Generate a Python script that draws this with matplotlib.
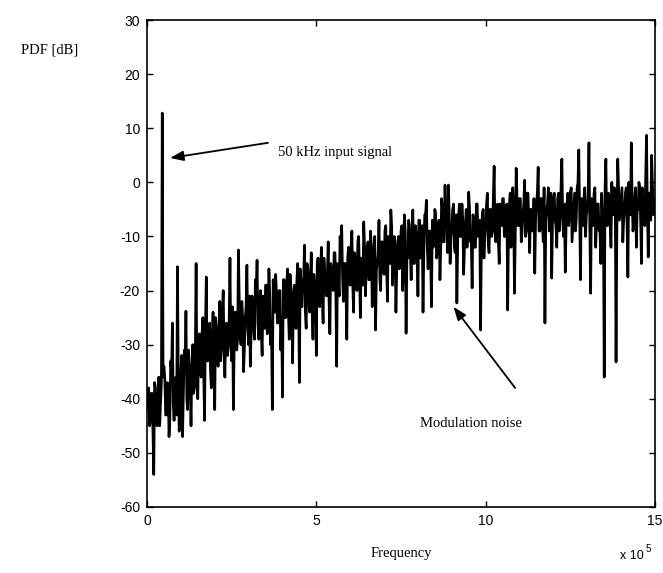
import matplotlib
matplotlib.use("Agg")
import matplotlib.pyplot as plt
import numpy as np

plt.rcParams['axes.unicode_minus'] = False

# PDF values (dB).
# pdf_db: samples at 0, 5, 10, ... 1500 kHz
# pdf_db_mid: samples at 2.5, 7.5, ... 1497.5 kHz
freq_step_khz = 5
pdf_db = [
    -42, -38, -44, -39, -54, -38, -45, -36, -41, 12.8,
    -34, -43, -37, -47, -33, -26, -44, -36, -15.6, -46,
    -35, -47, -31, -23.8, -42, -34, -45, -30, -38, -15,
    -40, -28, -36, -25, -44, -17.5, -33, -26, -38, -24,
    -42, -27, -34, -22, -31, -20, -36, -26, -30, -14,
    -33, -42, -24, -31, -12.5, -28, -22, -35, -25, -15.3,
    -30, -34, -21, -27, -18, -14.4, -29, -20, -32, -23,
    -19, -28, -16, -30, -42, -22, -17, -26, -20, -31,
    -39.7, -18, -25, -16, -29, -21, -33.4, -19, -27, -15,
    -37, -22, -18, -11.6, -27, -16, -24, -13, -29, -19,
    -32, -14, -23, -12, -26, -17, -21, -11, -28, -16,
    -20, -13, -34, -18, -10, -8, -22, -15, -29, -12,
    -19, -9, -24, -14, -20, -10, -25, -16, -7.3, -21,
    -13, -18, -9, -23, -12, -27.3, -15, -7, -20, -11,
    -17, -8, -22, -13, -5.1, -19, -10, -24, -12, -16,
    -9, -20, -6, -27.9, -14, -8, -18, -5.1, -15, -10,
    -21, -7, -13, -24, -6, -3.3, -16, -9, -23, -12,
    -5, -14, -8, -18, -3, -11, -0.5, -6, -0.5, -15,
    -9, -4, -13, -22.3, -6, -10, -4, -17, -8, -12,
    -1.8, -11, -19.5, -7, -12, -4, -10, -27.3, -6, -14,
    -8, -2, -13, -5, -9, 3.0, -11, -4, -15, -7,
    -3, -10, -6, -23.6, -4, -12, -1, -20.5, 2.6, -8,
    -3, -11, -6, 0.4, -9, -2, -13, -5, -8, -16.8,
    -4, 2.8, -9, -3, -11, -26, -5, -1, -8, -17.7,
    -3, -7, -12, -2, -6, 4.3, -10, -16.6, -4, -8,
    -2, -11, -5, -9, -1, 6.0, -18, -6, -3, -10,
    -5, 7.3, -20.5, -7, -2, -12, -4, -9, -15, -6,
    -36, 4.3, -8, -3, -12, -6, -1, -33.2, 4.3, -7,
    -3, -11, -5, -1, -17.5, -6, 7.3, -9, -3, -12,
    -5, -1, -15, -4, -8, 8.7, -13.8, -2, 5, -6,
    -3,
]
pdf_db_mid = [
    -38, -45, -39, -46, -37, -44, -40, -45, -37, -36,
    -36, -43, -38, -44, -35, -41, -38, -43, -36, -42,
    -32, -39, -34, -40, -31, -37, -34, -39, -32, -37,
    -29, -35, -28, -36, -27, -33, -30, -35, -29, -33,
    -25, -32, -27, -33, -24, -30, -27, -32, -26, -30,
    -23, -30, -24, -29, -22, -30, -25, -31, -23, -27,
    -21, -28, -23, -29, -20, -26, -23, -28, -21, -27,
    -19, -26, -21, -27, -18, -24, -21, -26, -20, -25,
    -18, -25, -19, -24, -17, -23, -20, -26, -18, -22,
    -16, -23, -18, -24, -15, -21, -18, -23, -17, -21,
    -15, -22, -16, -21, -14, -20, -17, -22, -15, -19,
    -13, -20, -15, -21, -12, -18, -15, -20, -14, -18,
    -12, -19, -13, -18, -11, -17, -14, -19, -12, -16,
    -11, -18, -12, -17, -10, -16, -13, -18, -11, -15,
    -9, -16, -10, -15, -8, -14, -11, -16, -10, -14,
    -8, -15, -9, -14, -7, -13, -10, -15, -8, -12,
    -7, -14, -8, -13, -6, -12, -9, -14, -7, -11,
    -6, -13, -7, -12, -5, -11, -8, -13, -6, -10,
    -5, -12, -6, -11, -4, -10, -7, -12, -5, -9,
    -5, -11, -6, -12, -4, -10, -7, -11, -5, -10,
    -4, -11, -5, -10, -3, -9, -6, -11, -4, -8,
    -3, -10, -4, -9, -2, -8, -5, -10, -3, -8,
    -3, -9, -4, -10, -2, -8, -5, -9, -3, -7,
    -2, -9, -3, -8, -1, -7, -4, -9, -2, -7,
    -2, -8, -3, -9, -1, -7, -4, -8, -2, -6,
    -1, -8, -2, -7, 0, -6, -3, -8, -1, -6,
    -2, -9, -3, -8, -1, -7, -4, -9, -2, -6,
    -1, -8, -2, -7, 0, -6, -3, -8, -1, -5,
    -1, -7, -2, -8, 0, -6, -3, -7, -1, -5,
    0, -7, -1, -6, 1, -5, -2, -7, 0, -4,
]

freq_main = np.arange(len(pdf_db)) * freq_step_khz * 1e3
freq_mid = (np.arange(len(pdf_db_mid)) + 0.5) * freq_step_khz * 1e3
freq_hz = np.empty(len(freq_main) + len(freq_mid))
vals = np.empty_like(freq_hz)
freq_hz[0::2] = freq_main
freq_hz[1::2] = freq_mid
vals[0::2] = pdf_db
vals[1::2] = pdf_db_mid

x_ticks = [0, 5e5, 10e5, 15e5]
x_tick_labels = ['0', '5', '10', '15']
y_ticks = [-60, -50, -40, -30, -20, -10, 0, 10, 20, 30]

fig = plt.figure(figsize=(6.63, 5.73), dpi=100)
ax = fig.add_axes([147/663, 1-507/573, (655-147)/663, (507-20)/573])
ax.plot(freq_hz, vals, color='black', linewidth=1.9)

ax.set_xlim(0, 15e5)
ax.set_ylim(-60, 30)
ax.set_xticks(x_ticks)
ax.set_xticklabels(x_tick_labels)
ax.set_yticks(y_ticks)
ax.tick_params(direction='in', top=True, right=True, length=4, width=1,
               labelsize=10, pad=5)
for lab in ax.get_xticklabels() + ax.get_yticklabels():
    lab.set_fontfamily('Liberation Sans')
for s in ax.spines.values():
    s.set_linewidth(1.2)

serif = 'Liberation Serif'
ax.set_xlabel('Frequency', fontfamily=serif, fontsize=10.5, labelpad=14)
fig.text(50/663, 1-50/573, 'PDF [dB]', fontfamily=serif, fontsize=10.5,
         ha='center', va='center')
fig.text(644/663, 1-556/573, 'x 10', fontfamily='Liberation Sans', fontsize=9,
         ha='right', va='center')
fig.text(646/663, 1-549/573, '5', fontfamily='Liberation Sans', fontsize=7,
         ha='left', va='center')

ax.annotate('', xy=(68e3, 4.5), xytext=(357e3, 7.3),
            arrowprops=dict(arrowstyle='-|>,head_length=0.8,head_width=0.3',
                            color='black', lw=1.3, shrinkA=0, shrinkB=0))
ax.text(387e3, 5.6, '50 kHz input signal', fontfamily=serif, fontsize=10.5,
        ha='left', va='center')

ax.annotate('', xy=(905e3, -23), xytext=(1087e3, -38),
            arrowprops=dict(arrowstyle='-|>,head_length=0.8,head_width=0.3',
                            color='black', lw=1.3, shrinkA=0, shrinkB=0))
ax.text(806e3, -44.5, 'Modulation noise', fontfamily=serif, fontsize=10.5,
        ha='left', va='center')

fig.savefig('out.png', dpi=100)
